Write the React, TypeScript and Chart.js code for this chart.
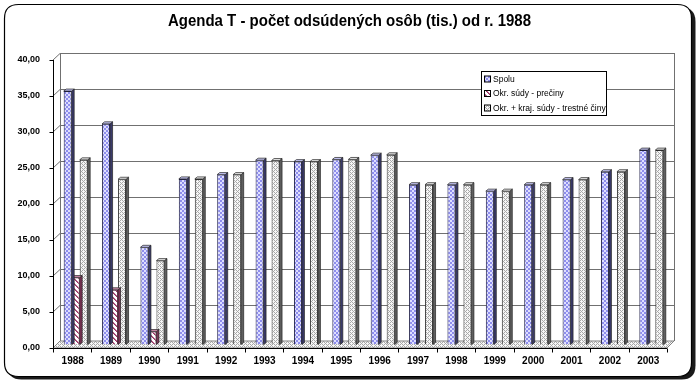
import React, { useEffect, useRef } from 'react';
import { Chart, registerables } from 'chart.js';

Chart.register(...registerables);

// ---- data ----
const years = ['1988', '1989', '1990', '1991', '1992', '1993', '1994', '1995', '1996', '1997', '1998', '1999', '2000', '2001', '2002', '2003'];
const spolu = [35.2, 30.65, 13.5, 23.0, 23.6, 25.6, 25.4, 25.7, 26.3, 22.2, 22.2, 21.3, 22.2, 22.9, 24.0, 27.0];
const okrPreciny = [9.3, 7.6, 1.8, null, null, null, null, null, null, null, null, null, null, null, null, null];
const trestneCiny = [25.65, 22.95, 11.65, 23.0, 23.6, 25.55, 25.4, 25.7, 26.35, 22.2, 22.2, 21.3, 22.2, 22.9, 24.0, 27.0];
const seriesNames = ['Spolu', 'Okr. súdy - prečiny', 'Okr. + kraj. súdy - trestné činy'];
const yTickMin = 0;
const yTickMax = 40;
const yTickStep = 5;
const titleText = 'Agenda T - počet odsúdených osôb (tis.) od r. 1988';

// ---- styling ----
const SANS = '"Liberation Sans", Arial, sans-serif';
const D = 3.5; // 3D depth half-offset
const sideColors = ['#3a3a6a', '#7a3355', '#606060'];
const capColors = ['#c4c4f4', '#c888a8', '#e2e2e2'];

function makePattern(kind: string): CanvasPattern | string {
  const c = document.createElement('canvas');
  const g = c.getContext('2d');
  if (!g) return '#ccc';
  if (kind === 'check') {
    c.width = 4; c.height = 4;
    g.fillStyle = '#dedeff'; g.fillRect(0, 0, 4, 4);
    g.fillStyle = '#8e8eec'; g.fillRect(0, 0, 2, 2); g.fillRect(2, 2, 2, 2);
  } else if (kind === 'stripe') {
    c.width = 5; c.height = 5;
    g.fillStyle = '#ffffff'; g.fillRect(0, 0, 5, 5);
    for (let px = 0; px < 5; px++) for (let py = 0; py < 5; py++) {
      const k = (px - py + 50) % 5;
      if (k === 0) { g.fillStyle = '#993366'; g.fillRect(px, py, 1, 1); }
      else if (k === 1) { g.fillStyle = '#b86a8e'; g.fillRect(px, py, 1, 1); }
    }
  } else {
    c.width = 4; c.height = 4;
    g.fillStyle = '#f6f6f6'; g.fillRect(0, 0, 4, 4);
    g.fillStyle = '#a8a8a8';
    for (let px = 0; px < 4; px++) for (let py = 0; py < 4; py++) {
      if ((px + py) % 4 === 0 || ((px - py + 8) % 4) === 2) g.fillRect(px, py, 1, 1);
    }
  }
  return g.createPattern(c, 'repeat') || '#ccc';
}

function roundRect(ctx: CanvasRenderingContext2D, x: number, y: number, w: number, h: number, r: number) {
  ctx.beginPath();
  ctx.moveTo(x + r, y);
  ctx.lineTo(x + w - r, y);
  ctx.quadraticCurveTo(x + w, y, x + w, y + r);
  ctx.lineTo(x + w, y + h - r);
  ctx.quadraticCurveTo(x + w, y + h, x + w - r, y + h);
  ctx.lineTo(x + r, y + h);
  ctx.quadraticCurveTo(x, y + h, x, y + h - r);
  ctx.lineTo(x, y + r);
  ctx.quadraticCurveTo(x, y, x + r, y);
  ctx.closePath();
}

export default function App() {
  const ref = useRef<HTMLCanvasElement>(null);

  useEffect(() => {
    const canvas = ref.current;
    if (!canvas) return;
    const pats = [makePattern('check'), makePattern('stripe'), makePattern('weave')];
    const floorPat = makePattern('weave');

    const chartPlugin = {
      id: 'excel3d',
      beforeDraw(chart: any) {
        const { ctx, chartArea: a, scales } = chart;
        const y = scales.y;
        ctx.save();
        ctx.fillStyle = '#ffffff';
        ctx.fillRect(0, 0, chart.width, chart.height);
        roundRect(ctx, 7.5, 7.5, 688, 372, 14);
        ctx.fillStyle = '#1a1a1a';
        ctx.fill();
        roundRect(ctx, 4.5, 4.5, 687, 372, 14);
        ctx.fillStyle = '#ffffff';
        ctx.fill();
        ctx.lineWidth = 1.2;
        ctx.strokeStyle = '#000000';
        ctx.stroke();
        // title (horizontally condensed like Arial Narrow)
        ctx.fillStyle = '#000000';
        ctx.font = 'bold 16px ' + SANS;
        ctx.textAlign = 'center';
        ctx.textBaseline = 'middle';
        const w = ctx.measureText(titleText).width;
        const sx = Math.min(1, 363 / w);
        ctx.save();
        ctx.translate(349.5, 22);
        ctx.scale(sx, 1);
        ctx.fillText(titleText, 0, 0);
        ctx.restore();

        // back wall
        const bl = a.left + D, br = a.right + D, bt = a.top - D, bb = a.bottom - D;
        ctx.fillStyle = '#ffffff';
        ctx.fillRect(bl, bt, br - bl, bb - bt);
        ctx.lineWidth = 1;
        ctx.strokeStyle = '#707070';
        for (let v = yTickMin; v <= yTickMax; v += yTickStep) {
          const py = y.getPixelForValue(v);
          const yb = Math.round(py - D) + 0.5;
          ctx.beginPath();
          ctx.moveTo(bl, yb);
          ctx.lineTo(br, yb);
          ctx.stroke();
          ctx.beginPath();
          ctx.moveTo(a.left - D, py + D);
          ctx.lineTo(bl, yb);
          ctx.stroke();
        }
        ctx.beginPath();
        ctx.moveTo(Math.round(bl) + 0.5, bt);
        ctx.lineTo(Math.round(bl) + 0.5, bb);
        ctx.moveTo(Math.round(br) + 0.5, bt);
        ctx.lineTo(Math.round(br) + 0.5, bb);
        ctx.stroke();

        // floor
        ctx.beginPath();
        ctx.moveTo(a.left - D, a.bottom + D);
        ctx.lineTo(bl, bb);
        ctx.lineTo(br, bb);
        ctx.lineTo(a.right - D, a.bottom + D);
        ctx.closePath();
        ctx.fillStyle = floorPat;
        ctx.fill();
        ctx.strokeStyle = '#808080';
        ctx.stroke();

        // front axes
        ctx.strokeStyle = '#000000';
        ctx.lineWidth = 1;
        const fx = Math.round(a.left - D) + 0.5;
        const fy = Math.round(a.bottom + D) + 0.5;
        ctx.beginPath();
        ctx.moveTo(fx, a.top + D);
        ctx.lineTo(fx, fy);
        ctx.lineTo(a.right - D, fy);
        ctx.stroke();
        for (let v = yTickMin; v <= yTickMax; v += yTickStep) {
          const ty = Math.round(y.getPixelForValue(v) + D) + 0.5;
          ctx.beginPath();
          ctx.moveTo(fx - 4, ty);
          ctx.lineTo(fx, ty);
          ctx.stroke();
        }
        const n = years.length;
        for (let i = 0; i <= n; i++) {
          const tx = Math.round(a.left + (i * (a.right - a.left)) / n - D) + 0.5;
          ctx.beginPath();
          ctx.moveTo(tx, fy);
          ctx.lineTo(tx, fy + 4);
          ctx.stroke();
        }
        ctx.restore();
      },
      afterDatasetDraw(chart: any, args: any) {
        const { ctx } = chart;
        const meta = chart.getDatasetMeta(args.index);
        ctx.save();
        ctx.lineWidth = 0.7;
        ctx.strokeStyle = '#222222';
        for (const el of meta.data) {
          const p = el.getProps(['x', 'y', 'base', 'width'], true);
          if (!isFinite(p.y) || !isFinite(p.base) || Math.abs(p.base - p.y) < 0.5) continue;
          const l = p.x - p.width / 2, r = p.x + p.width / 2, t = p.y, b = p.base;
          const dx = 2.5, dy = 2;
          ctx.beginPath();
          ctx.moveTo(r, t);
          ctx.lineTo(r + dx, t - dy);
          ctx.lineTo(r + dx, b - dy);
          ctx.lineTo(r, b);
          ctx.closePath();
          ctx.fillStyle = sideColors[args.index];
          ctx.fill();
          ctx.stroke();
          ctx.beginPath();
          ctx.moveTo(l, t);
          ctx.lineTo(l + dx, t - dy);
          ctx.lineTo(r + dx, t - dy);
          ctx.lineTo(r, t);
          ctx.closePath();
          ctx.fillStyle = capColors[args.index];
          ctx.fill();
          ctx.stroke();
        }
        ctx.restore();
      },
      afterDraw(chart: any) {
        const { ctx } = chart;
        ctx.save();
        const lx = 481.5, ly = 71.5, lw = 125, lh = 44;
        ctx.fillStyle = '#ffffff';
        ctx.fillRect(lx, ly, lw, lh);
        ctx.strokeStyle = '#000000';
        ctx.lineWidth = 1;
        ctx.strokeRect(lx, ly, lw, lh);
        ctx.font = '8.5px ' + SANS;
        ctx.textAlign = 'left';
        ctx.textBaseline = 'middle';
        const rows = [79, 93.5, 108];
        seriesNames.forEach((name, i) => {
          const cy = rows[i];
          ctx.fillStyle = pats[i];
          ctx.fillRect(484.5, cy - 3, 6, 6);
          ctx.strokeStyle = '#000000';
          ctx.strokeRect(484.5, cy - 3, 6, 6);
          ctx.fillStyle = '#000000';
          ctx.fillText(name, 493, cy + 0.5);
        });
        ctx.restore();
      },
    };

    const chart = new Chart(canvas, {
      type: 'bar',
      data: {
        labels: years,
        datasets: [
          { label: seriesNames[0], data: spolu, backgroundColor: pats[0] as any, borderColor: '#22224a', borderWidth: 1 },
          { label: seriesNames[1], data: okrPreciny as any, backgroundColor: pats[1] as any, borderColor: '#6a2a48', borderWidth: 1 },
          { label: seriesNames[2], data: trestneCiny, backgroundColor: pats[2] as any, borderColor: '#333333', borderWidth: 1 },
        ],
      },
      options: {
        responsive: false,
        animation: false,
        devicePixelRatio: 1,
        layout: { padding: { top: 56.5, left: 0, right: 29.5, bottom: 9.5 } },
        datasets: { bar: { categoryPercentage: 0.625, barPercentage: 1.0 } },
        plugins: { legend: { display: false }, tooltip: { enabled: false }, title: { display: false } },
        scales: {
          x: {
            grid: { display: false },
            border: { display: false },
            ticks: {
              color: '#000000',
              font: { family: SANS, size: 10, weight: 'bold' },
              padding: 3,
              labelOffset: -3,
              maxRotation: 0,
              autoSkip: false,
            },
            afterFit: (s: any) => { s.height = 30; },
          },
          y: {
            min: yTickMin,
            max: yTickMax,
            grid: { display: false },
            border: { display: false },
            ticks: {
              stepSize: yTickStep,
              color: '#000000',
              font: { family: SANS, size: 9, weight: 'bold' },
              padding: 8.5,
              labelOffset: 3.5,
              callback: (v: any) => Number(v).toFixed(2).replace('.', ','),
            },
            afterFit: (s: any) => { s.width = 56.5; },
          },
        },
      },
      plugins: [chartPlugin],
    } as any);
    return () => chart.destroy();
  }, []);

  return (
    <div style={{ position: 'fixed', left: 0, top: 0, width: 700, height: 384, background: '#ffffff' }}>
      <canvas ref={ref} width={700} height={384} style={{ display: 'block', width: 700, height: 384 }} />
    </div>
  );
}
